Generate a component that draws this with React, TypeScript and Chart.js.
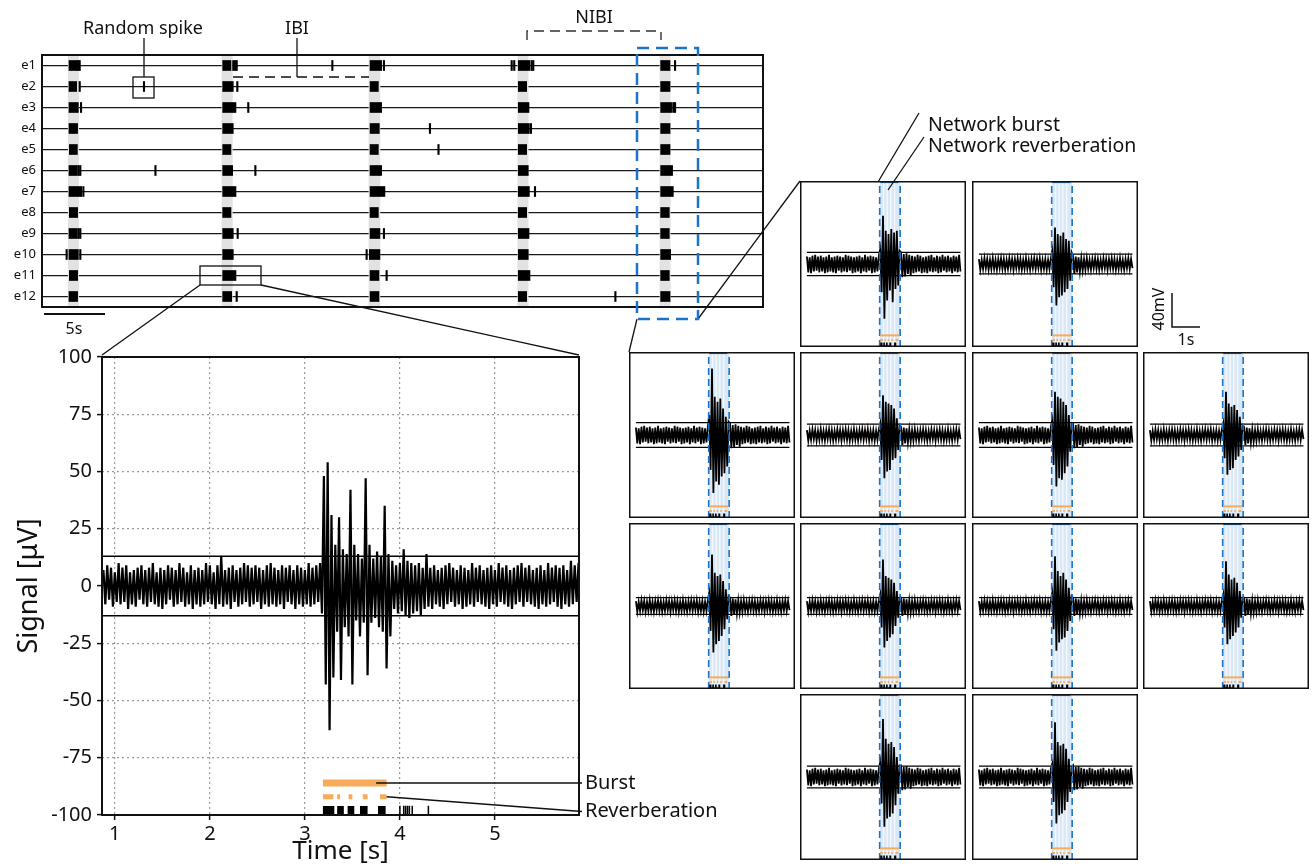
import React, { useEffect, useRef } from "react";
import { Chart, registerables } from "chart.js";

Chart.register(...registerables);

const FONT = '"Noto Sans", "Open Sans", "DejaVu Sans", sans-serif';
const INK = "#111111";
const BLUE = "#1a73c9";
const ORANGE = "#f8ab58";

// ---------------- Raster (top) ----------------
const electrodes = ["e1", "e2", "e3", "e4", "e5", "e6", "e7", "e8", "e9", "e10", "e11", "e12"];
const rasterMin = 0;
const rasterMax = 59.1;
const burstBands = [
  [2.15, 3.0],
  [14.75, 15.6],
  [26.8, 27.7],
  [39.0, 39.85],
  [50.65, 51.5],
];
const burstBlocks = [
  [[2.21, 2.92], [14.81, 15.49], [26.89, 27.84], [39.04, 40.0], [50.71, 51.48]],
  [[2.21, 2.84], [14.81, 15.68], [26.89, 27.57], [39.04, 39.73], [50.71, 51.48]],
  [[2.21, 2.98], [14.81, 15.9], [26.89, 27.84], [39.04, 39.92], [50.71, 51.61]],
  [[2.21, 2.92], [14.81, 15.68], [26.89, 27.65], [39.04, 39.95], [50.71, 51.48]],
  [[2.24, 2.9], [14.81, 15.49], [26.89, 27.57], [39.04, 39.73], [50.71, 51.48]],
  [[2.21, 2.9], [14.81, 15.63], [26.89, 27.84], [39.04, 39.86], [50.71, 51.69]],
  [[2.21, 3.25], [14.81, 15.9], [26.89, 28.11], [39.04, 39.95], [50.71, 51.75]],
  [[2.24, 2.92], [14.81, 15.49], [26.89, 27.57], [39.04, 39.73], [50.71, 51.42]],
  [[2.21, 2.9], [14.81, 15.68], [26.89, 27.7], [39.04, 39.92], [50.71, 51.42]],
  [[2.21, 2.98], [14.81, 15.68], [26.83, 27.7], [39.04, 39.86], [50.71, 51.53]],
  [[2.24, 2.92], [14.81, 15.9], [26.89, 27.62], [39.04, 40.0], [50.71, 51.42]],
  [[2.21, 2.92], [14.81, 15.55], [26.89, 27.62], [39.04, 39.73], [50.71, 51.48]],
];
const loneSpikes = [
  [3.0, 3.09, 15.68, 15.82, 15.96, 23.8, 28.03, 38.5, 38.71, 40.14, 40.27, 51.89],
  [3.09, 8.36, 16.01],
  [3.2, 16.91, 51.75, 51.89],
  [31.8, 40.08],
  [32.5],
  [3.0, 3.14, 9.3, 17.49],
  [3.39, 40.41],
  [],
  [3.0, 3.14, 16.04, 28.03],
  [2.02, 3.14, 26.61],
  [28.25],
  [15.96, 47.0],
];
const SPIKE_HALF = 0.06;

// ---------------- Zoomed trace (bottom left) ----------------
const signalStart = 0.88;
const signalStep = 0.02;
const signalValues = [
  7, -8, 9, -6, 8, -9, 6, -7, 10, -8,
  8, -7, 9, -10, 6, -8, 7, -9, 8, -6,
  9, -8, 7, -9, 8, -7, 10, -8, 6, -9,
  8, -10, 7, -8, 9, -6, 8, -9, 7, -8,
  10, -7, 8, -9, 6, -8, 9, -10, 7, -8,
  8, -9, 7, -8, 10, -7, 9, -8, 6, -10,
  9, -8, 13, -9, 7, -8, 8, -10, 9, -7,
  7, -9, 8, -8, 10, -7, 9, -9, 8, -8,
  9, -7, 8, -10, 7, -8, 9, -9, 10, -8,
  8, -9, 7, -8, 9, -10, 8, -7, 9, -8,
  7, -10, 9, -8, 8, -9, 7, -8, 10, -9,
  8, -8, 9, -7, 10, -12, 48, -43, 54, -63,
  31, -40, 18, -20, 30, -41, 16, -18, 14, -22,
  42, -43, 18, -15, 14, -22, 12, -16, 47, -39,
  18, -16, 12, -14, 15, -18, 13, -20, 35, -36,
  14, -22, 11, -10, 9, -12, 10, -11, 16, -13,
  11, -14, 10, -12, 9, -11, 10, -13, 8, -10,
  14, -9, 8, -10, 9, -8, 7, -9, 8, -10,
  9, -8, 10, -7, 8, -9, 7, -8, 9, -10,
  8, -9, 7, -8, 10, -9, 8, -7, 9, -8,
  7, -9, 8, -10, 9, -8, 7, -9, 10, -7,
  8, -8, 9, -9, 7, -10, 8, -8, 9, -7,
  10, -9, 8, -7, 9, -8, 7, -9, 8, -10,
  9, -8, 7, -9, 10, -8, 8, -7, 9, -9,
  8, -10, 9, -8, 7, -9, 11, -8, 9, -7,
  10,
];
const mainXMin = 0.865;
const mainXMax = 5.885;
const mainXTicks = [1, 2, 3, 4, 5];
const mainYTicks = [-100, -75, -50, -25, 0, 25, 50, 75, 100];
const mainThreshold = 13;
const mainBurst = [3.19, 3.86];
const mainBurstLevel = -86;
const mainReverbs = [[3.19, 3.3], [3.34, 3.37], [3.46, 3.5], [3.61, 3.66], [3.79, 3.86]];
const mainReverbLevel = -92;
const mainSpikeBlocks = [[3.19, 3.31], [3.34, 3.41], [3.45, 3.52], [3.58, 3.66], [3.77, 3.85]];
const mainSpikeTicks = [4.0, 4.04, 4.06, 4.08, 4.1, 4.13, 4.3];
const mainRasterLevel = -98;

// ---------------- Small panels (right) ----------------
const panelStart = 0.55;
const panelStep = 0.05;
const noisePreWide = [
  9, -10, 8, -11, 10, -9, 11, -8, 9, -10,
  10, -9, 8, -11, 9, -10, 11, -9, 8, -10,
  9, -11, 10, -8, 9, -10, 8, -9, 11, -10,
  10, -8, 9, -11, 8, -10, 9, -9, 10, -11,
  8, -9, 11, -10, 9, -8, 10, -11, 9, -10,
  8, -9, 10,
];
const noisePostWide = [
  14, -16, 12, -15, 13, -12, 11, -14, 10, -11,
  9, -10, 11, -9, 10, -11, 8, -10, 9, -11,
  10, -9, 11, -10, 8, -9, 10, -11, 9, -10,
  11, -8, 9, -10, 10, -9, 8, -11, 10, -9,
  9, -10, 11, -9,
];
const noisePreThin = [
  6, -7, 5, -6, 7, -5, 6, -7, 5, -6,
  7, -6, 5, -7, 6, -5, 7, -6, 6, -7,
  5, -6, 7, -5, 6, -7, 6, -5, 7, -6,
  6, -7, 5, -6, 7, -6, 5, -7, 6, -5,
  7, -6, 6, -5, 7, -7, 5, -6, 6, -7,
  5, -6, 7,
];
const noisePostThin = [
  10, -12, 9, -10, 8, -9, 7, -8, 6, -7,
  7, -6, 5, -7, 6, -5, 7, -6, 6, -7,
  5, -6, 7, -5, 6, -7, 6, -5, 7, -6,
  6, -7, 5, -6, 7, -6, 5, -7, 6, -5,
  7, -6, 6, -5,
];
const panelBursts = [
  [18, -34, 58, -66, 40, -44, 36, -32, 42, -46, 38, -30, 40, -26, 16],
  [16, -28, 44, -50, 36, -40, 34, -38, 38, -34, 30, -30, 28, -20, 14],
  [24, -42, 80, -70, 46, -56, 40, -60, 44, -50, 32, -46, 22, -38, 16],
  [14, -30, 48, -52, 40, -44, 38, -42, 36, -30, 32, -28, 20, -18, 12],
  [18, -36, 52, -62, 46, -52, 44, -54, 40, -46, 36, -38, 24, -20, 14],
  [14, -28, 52, -48, 38, -42, 34, -40, 36, -30, 30, -26, 22, -18, 12],
  [16, -30, 62, -56, 40, -46, 36, -42, 38, -36, 30, -28, 20, -16, 12],
  [14, -26, 56, -50, 36, -42, 34, -38, 32, -34, 28, -24, 18, -14, 10],
  [16, -28, 60, -54, 42, -44, 36, -40, 40, -38, 32, -30, 22, -18, 12],
  [14, -26, 54, -46, 38, -40, 32, -36, 34, -32, 28, -26, 18, -14, 10],
  [18, -32, 70, -60, 46, -50, 40, -48, 42, -44, 36, -34, 24, -20, 14],
  [16, -30, 66, -56, 42, -46, 38, -44, 40, -40, 34, -30, 22, -18, 12],
];
const panelWideNoise = [true, false, true, false, true, false, false, false, false, false, true, true];
const panelThresholds = [14, 12, 15, 13, 15, 13, 10, 10, 10, 10, 13, 13];
const panelBand = [3.18, 3.92];
const panelStripes = [3.32, 3.45, 3.58, 3.72];
const panelTopMark = [3.2, 3.85];
const panelBottomMark = [3.2, 3.55];
const panelBurst = [3.2, 3.88];
const panelReverbs = [[3.2, 3.3], [3.35, 3.4], [3.47, 3.52], [3.6, 3.65], [3.75, 3.85]];
const panelSpikeBlocks = [[3.2, 3.28], [3.31, 3.37], [3.41, 3.47], [3.53, 3.6], [3.7, 3.78]];
const panelTrace = [0.55, 6.1];

// layout of the 12 panels (column, row)
const panelSlots = [
  [1, 0], [2, 0],
  [0, 1], [1, 1], [2, 1], [3, 1],
  [0, 2], [1, 2], [2, 2], [3, 2],
  [1, 3], [2, 3],
];
const panelLefts = [629, 800, 972, 1143];
const panelTops = [181, 352, 523, 694];
const PANEL = 166;

// ---------------- helpers ----------------
const frame = (w: number, inset: boolean) => ({
  id: "frame",
  afterDraw(chart: any) {
    const { ctx, chartArea: a } = chart;
    const o = inset ? w / 2 : 0;
    ctx.save();
    ctx.strokeStyle = INK;
    ctx.lineWidth = w;
    ctx.strokeRect(a.left + o, a.top + o, a.right - a.left - 2 * o, a.bottom - a.top - 2 * o);
    ctx.restore();
  },
});

const segs = (ranges: number[][], level: number) => {
  const out: any[] = [];
  ranges.forEach(([a, b]) => {
    out.push({ x: a, y: level }, { x: b, y: level }, { x: b, y: null });
  });
  return out;
};
const verticals = (xs: number[], lo: number, hi: number) => {
  const out: any[] = [];
  xs.forEach((x) => {
    out.push({ x, y: lo }, { x, y: hi }, { x, y: null });
  });
  return out;
};
const lineDs = (data: any[], color: string, width: number, order: number, extra: any = {}) => ({
  type: "line",
  data,
  borderColor: color,
  borderWidth: width,
  pointRadius: 0,
  tension: 0,
  spanGaps: false,
  order,
  borderCapStyle: "butt",
  ...extra,
});

function rasterConfig(): any {
  const datasets: any[] = [];
  burstBands.forEach((band) =>
    datasets.push({
      type: "bar",
      data: electrodes.map(() => band),
      backgroundColor: "#e2e2e2",
      barPercentage: 1,
      categoryPercentage: 1,
      grouped: false,
      order: 5,
    })
  );
  for (let k = 0; k < burstBands.length; k++) {
    datasets.push({
      type: "bar",
      data: burstBlocks.map((r) => r[k]),
      backgroundColor: "#000",
      barThickness: 10,
      grouped: false,
      order: 2,
    });
  }
  const maxSp = Math.max(...loneSpikes.map((s) => s.length));
  for (let k = 0; k < maxSp; k++) {
    datasets.push({
      type: "bar",
      data: loneSpikes.map((s) => (s[k] === undefined ? null : [s[k] - SPIKE_HALF, s[k] + SPIKE_HALF])),
      backgroundColor: "#000",
      barThickness: 10,
      grouped: false,
      order: 1,
    });
  }
  return {
    type: "bar",
    data: { labels: electrodes, datasets },
    options: {
      indexAxis: "y",
      responsive: false,
      animation: false,
      devicePixelRatio: 1,
      layout: { padding: { top: 55, right: 17, bottom: 23, left: 0 } },
      plugins: { legend: { display: false }, tooltip: { enabled: false } },
      scales: {
        x: { type: "linear", min: rasterMin, max: rasterMax, display: false },
        y: {
          type: "category",
          offset: true,
          grid: { offset: false, color: "#1a1a1a", lineWidth: 1.3, drawTicks: false },
          border: { display: false },
          ticks: { font: { family: FONT, size: 13 }, color: INK, padding: 6, autoSkip: false },
          afterFit: (s: any) => {
            s.width = 42;
          },
        },
      },
    },
    plugins: [frame(2, false)],
  };
}

const mainLabels = {
  id: "mainLabels",
  afterDraw(chart: any) {
    const { ctx, chartArea: a, scales } = chart;
    const x = scales.x;
    const y = scales.y;
    const tx = a.right + 6;
    const yb = y.getPixelForValue(mainBurstLevel);
    const yr0 = y.getPixelForValue(mainReverbLevel);
    const yr = y.getPixelForValue(-98.5);
    ctx.save();
    ctx.strokeStyle = INK;
    ctx.lineWidth = 1.5;
    ctx.beginPath();
    ctx.moveTo(x.getPixelForValue(3.75), yb);
    ctx.lineTo(tx - 3, yb);
    ctx.moveTo(x.getPixelForValue(mainReverbs[mainReverbs.length - 1][1]), yr0);
    ctx.lineTo(tx - 3, yr);
    ctx.stroke();
    ctx.fillStyle = INK;
    ctx.font = `20px ${FONT}`;
    ctx.textBaseline = "middle";
    ctx.textAlign = "left";
    ctx.fillText("Burst", tx, yb);
    ctx.fillText("Reverberation", tx, yr);
    ctx.restore();
  },
};

function mainConfig(): any {
  const signal = signalValues.map((v, i) => ({ x: signalStart + i * signalStep, y: v }));
  const thr = [
    { x: mainXMin, y: mainThreshold }, { x: mainXMax, y: mainThreshold }, { x: mainXMax, y: null },
    { x: mainXMin, y: -mainThreshold }, { x: mainXMax, y: -mainThreshold },
  ];
  const gridCommon = { color: "#9a9a9a", lineWidth: 1.2, tickColor: INK, tickLength: 5, tickWidth: 1.5 };
  return {
    type: "line",
    data: {
      datasets: [
        lineDs(signal, "#000", 2.2, 3),
        lineDs(thr, "#000", 1.6, 2),
        lineDs(segs([mainBurst], mainBurstLevel), ORANGE, 7, 1),
        lineDs(segs(mainReverbs, mainReverbLevel), ORANGE, 5, 1),
        lineDs(segs(mainSpikeBlocks, mainRasterLevel), "#000", 9, 1),
        lineDs(verticals(mainSpikeTicks, -100, -96), "#000", 1.5, 1),
      ],
    },
    options: {
      responsive: false,
      animation: false,
      devicePixelRatio: 1,
      layout: { padding: { top: 15, right: 181, bottom: 0, left: 0 } },
      plugins: { legend: { display: false }, tooltip: { enabled: false } },
      scales: {
        x: {
          type: "linear",
          min: mainXMin,
          max: mainXMax,
          afterBuildTicks: (s: any) => {
            s.ticks = mainXTicks.map((v) => ({ value: v }));
          },
          grid: gridCommon,
          border: { display: false, dash: [2, 3] },
          ticks: { font: { family: FONT, size: 20 }, color: INK, padding: 2 },
          title: { display: true, text: "Time [s]", font: { family: FONT, size: 26 }, color: INK, padding: { top: 0, bottom: -1 } },
          afterFit: (s: any) => {
            s.height = 51;
          },
        },
        y: {
          type: "linear",
          min: -100,
          max: 100,
          afterBuildTicks: (s: any) => {
            s.ticks = mainYTicks.map((v) => ({ value: v }));
          },
          grid: gridCommon,
          border: { display: false, dash: [2, 3] },
          ticks: { font: { family: FONT, size: 20 }, color: INK, padding: 5 },
          title: { display: true, text: "Signal [μV]", font: { family: FONT, size: 27 }, color: INK, padding: { top: 13, bottom: 0 } },
          afterFit: (s: any) => {
            s.width = 102;
          },
        },
      },
    },
    plugins: [frame(2, false), mainLabels],
  };
}

function panelConfig(i: number): any {
  const values = panelWideNoise[i]
    ? [...noisePreWide, ...panelBursts[i], ...noisePostWide]
    : [...noisePreThin, ...panelBursts[i], ...noisePostThin];
  const trace = values.map((v, k) => ({ x: panelStart + k * panelStep, y: v }));
  const t = panelThresholds[i];
  const thr = [
    { x: panelTrace[0], y: t }, { x: panelTrace[1], y: t }, { x: panelTrace[1], y: null },
    { x: panelTrace[0], y: -t }, { x: panelTrace[1], y: -t },
  ];
  return {
    type: "line",
    data: {
      datasets: [
        lineDs([{ x: panelBand[0], y: 100 }, { x: panelBand[1], y: 100 }], "rgba(0,0,0,0)", 0, 9, {
          fill: "start",
          backgroundColor: "#d9e8f7",
        }),
        lineDs(verticals(panelStripes, -100, 100), "#f4f8fd", 1.4, 8),
        lineDs(trace, "#000", 1.8, 5),
        lineDs(thr, "#000", 1.2, 4),
        lineDs(verticals(panelBand, -100, 100), BLUE, 1.6, 3, { borderDash: [7, 4] }),
        lineDs(segs([panelTopMark], 99), BLUE, 2.5, 3),
        lineDs(segs([panelBottomMark], -99), BLUE, 2.5, 3),
        lineDs(segs([panelBurst], -86), ORANGE, 2, 2),
        lineDs(segs(panelReverbs, -91.5), ORANGE, 2, 2),
        lineDs(segs(panelSpikeBlocks, -97), "#000", 4, 1),
      ],
    },
    options: {
      responsive: false,
      animation: false,
      devicePixelRatio: 1,
      layout: { padding: 0 },
      plugins: { legend: { display: false }, tooltip: { enabled: false } },
      scales: {
        x: { type: "linear", min: 0.3, max: 6.3, display: false },
        y: { type: "linear", min: -100, max: 100, display: false },
      },
    },
    plugins: [frame(1.5, true)],
  };
}

function ChartCanvas({ make, left, top, width, height }: any) {
  const ref = useRef<HTMLCanvasElement>(null);
  useEffect(() => {
    const chart = new Chart(ref.current as HTMLCanvasElement, make());
    return () => chart.destroy();
  }, []);
  return (
    <canvas
      ref={ref}
      width={width}
      height={height}
      style={{ position: "absolute", left, top, width, height }}
    />
  );
}

export default function App() {
  const txt = { fontFamily: FONT, fill: INK } as any;
  return (
    <div
      style={{
        position: "absolute",
        left: 0,
        top: 0,
        width: 1314,
        height: 866,
        background: "#fff",
        overflow: "hidden",
      }}
    >
      <ChartCanvas make={rasterConfig} left={0} top={0} width={780} height={330} />
      <ChartCanvas make={mainConfig} left={0} top={340} width={760} height={526} />
      {panelSlots.map(([c, r], i) => (
        <ChartCanvas
          key={i}
          make={() => panelConfig(i)}
          left={panelLefts[c]}
          top={panelTops[r]}
          width={PANEL}
          height={PANEL}
        />
      ))}
      <svg
        width={1314}
        height={866}
        style={{ position: "absolute", left: 0, top: 0, pointerEvents: "none" }}
      >
        <g stroke={INK} strokeWidth={1.3} fill="none">
          <line x1={144} y1={38} x2={144} y2={77} />
          <rect x={133} y={77} width={21} height={21} />
          <line x1={297} y1={38} x2={297} y2={77} />
          <line x1={233} y1={77} x2={369} y2={77} strokeDasharray="10 6" strokeWidth={1.6} />
          <polyline points="527,40 527,31 661,31 661,40" strokeDasharray="10 6" stroke="#333" strokeWidth={1.4} />
          <rect x={200} y={266} width={61} height={19} />
          <line x1={200} y1={285} x2={102} y2={355} />
          <line x1={261} y1={285} x2={579} y2={355} />
          <line x1={637} y1={319} x2={629} y2={352} />
          <line x1={698} y1={319} x2={800} y2={181} />
          <line x1={919} y1={113} x2={878} y2={182} />
          <line x1={924} y1={137} x2={888} y2={190} />
          <line x1={44} y1={314} x2={105} y2={314} strokeWidth={2} />
          <polyline points="1172,293 1172,327 1200,327" strokeWidth={1.5} />
        </g>
        <rect
          x={637}
          y={48}
          width={61}
          height={271}
          fill="none"
          stroke={BLUE}
          strokeWidth={2.5}
          strokeDasharray="12 7"
        />
        <g {...txt} fontSize={18} dominantBaseline="central">
          <text x={143} y={27} textAnchor="middle">Random spike</text>
          <text x={297} y={27} textAnchor="middle">IBI</text>
          <text x={594} y={16} textAnchor="middle">NIBI</text>
        </g>
        <g {...txt} fontSize={19.5} dominantBaseline="central">
          <text x={928} y={123} textAnchor="start">Network burst</text>
          <text x={928} y={144} textAnchor="start">Network reverberation</text>
        </g>
        <g {...txt} fontSize={16} dominantBaseline="central">
          <text x={74} y={328} textAnchor="middle">5s</text>
          <text x={1186} y={339} textAnchor="middle">1s</text>
          <text x={0} y={0} textAnchor="middle" transform="translate(1158,309) rotate(-90)">40mV</text>
        </g>
      </svg>
    </div>
  );
}
